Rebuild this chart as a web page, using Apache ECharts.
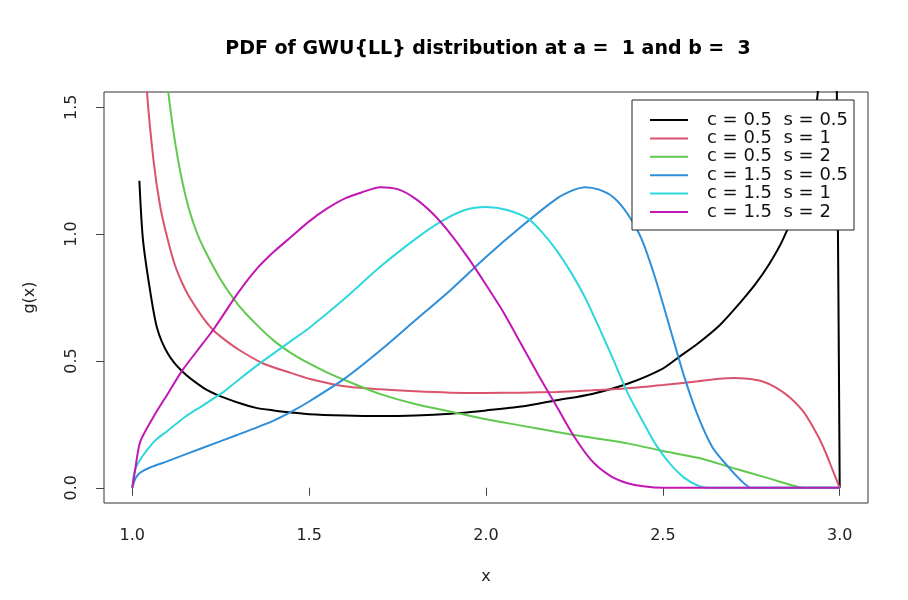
<!DOCTYPE html>
<html>
<head>
<meta charset="utf-8">
<script src="https://cdn.jsdelivr.net/npm/echarts@6/dist/echarts.min.js"></script>
<style>html,body{margin:0;padding:0;background:#fff}#c{width:908px;height:600px}</style>
</head>
<body>
<div id="c"></div>
<script>
const titleText = "PDF of GWU{LL} distribution at a =  1 and b =  3";
const xTicks = [1.0, 1.5, 2.0, 2.5, 3.0];
const yTicks = [0.0, 0.5, 1.0, 1.5];
const seriesNames = ["c = 0.5  s = 0.5", "c = 0.5  s = 1", "c = 0.5  s = 2", "c = 1.5  s = 0.5", "c = 1.5  s = 1", "c = 1.5  s = 2"];
const seriesColors = ["#000000", "#D9546C", "#61C94F", "#2F8FD8", "#2FD8DC", "#C218B5"];

// x positions and g(x) values
const blackX = [1.02,1.03,1.05,1.07,1.1,1.14,1.2,1.25,1.3,1.35,1.4,1.45,1.5,1.6,1.7,1.8,1.9,2.0,2.1,2.2,2.3,2.4,2.5,2.55,2.6,2.66,2.7,2.76,2.8,2.84,2.88,2.92,2.96,2.98,3.0];
const blackY = [1.21,0.98,0.78,0.63,0.53,0.46,0.395,0.36,0.335,0.315,0.305,0.297,0.29,0.285,0.283,0.285,0.292,0.305,0.32,0.345,0.37,0.41,0.47,0.52,0.57,0.64,0.70,0.80,0.88,0.98,1.12,1.35,1.9,2.8,0];
const redX = [1.02,1.04,1.06,1.08,1.1,1.12,1.14,1.16,1.2,1.23,1.26,1.3,1.37,1.45,1.5,1.6,1.7,1.8,1.9,2.0,2.1,2.2,2.3,2.4,2.5,2.6,2.66,2.7,2.74,2.78,2.82,2.86,2.9,2.94,2.96,2.98,3.0];
const redY = [2.4,1.6,1.29,1.1,0.98,0.88,0.81,0.755,0.67,0.62,0.585,0.545,0.49,0.452,0.43,0.40,0.388,0.38,0.375,0.374,0.375,0.378,0.384,0.392,0.405,0.42,0.43,0.433,0.43,0.42,0.395,0.355,0.295,0.2,0.14,0.07,0];
const greenX = [1.06,1.08,1.1,1.12,1.14,1.16,1.18,1.2,1.25,1.3,1.35,1.4,1.45,1.5,1.55,1.6,1.7,1.8,1.9,2.0,2.1,2.2,2.3,2.4,2.5,2.6,2.7,2.8,2.86,2.9,3.0];
const greenY = [2.2,1.85,1.58,1.37,1.215,1.1,1.015,0.95,0.82,0.72,0.645,0.58,0.53,0.49,0.455,0.425,0.37,0.33,0.30,0.27,0.245,0.22,0.197,0.175,0.145,0.118,0.077,0.037,0.012,0,0];
const blueX = [1.0,1.01,1.023,1.05,1.1,1.2,1.3,1.4,1.45,1.5,1.6,1.7,1.8,1.9,2.0,2.1,2.2,2.25,2.28,2.32,2.36,2.4,2.44,2.48,2.52,2.56,2.6,2.64,2.68,2.72,2.75,3.0];
const blueY = [0,0.04,0.06,0.08,0.105,0.158,0.21,0.265,0.30,0.34,0.43,0.54,0.66,0.78,0.91,1.03,1.14,1.175,1.185,1.175,1.145,1.08,0.98,0.82,0.63,0.44,0.28,0.16,0.09,0.03,0,0];
const cyanX = [1.0,1.01,1.06,1.1,1.15,1.2,1.26,1.3,1.37,1.45,1.5,1.6,1.7,1.8,1.87,1.94,2.0,2.06,2.12,2.16,2.2,2.24,2.28,2.32,2.36,2.4,2.44,2.48,2.52,2.56,2.6,2.63,3.0];
const cyanY = [0,0.08,0.18,0.225,0.28,0.325,0.38,0.425,0.50,0.58,0.63,0.745,0.87,0.98,1.047,1.095,1.107,1.095,1.06,1.005,0.935,0.85,0.75,0.63,0.505,0.375,0.27,0.17,0.095,0.04,0.008,0,0];
const magentaX = [1.0,1.008,1.022,1.06,1.1,1.14,1.2,1.23,1.3,1.35,1.4,1.45,1.5,1.55,1.6,1.65,1.7,1.75,1.8,1.85,1.9,1.95,2.0,2.05,2.1,2.15,2.2,2.25,2.3,2.35,2.4,2.45,2.5,3.0];
const magentaY = [0,0.07,0.18,0.28,0.37,0.46,0.57,0.625,0.77,0.86,0.93,0.99,1.05,1.10,1.14,1.165,1.185,1.177,1.14,1.08,1.0,0.905,0.80,0.69,0.565,0.44,0.32,0.2,0.105,0.048,0.018,0.005,0,0];

const allX = [blackX, redX, greenX, blueX, cyanX, magentaX];
const allY = [blackY, redY, greenY, blueY, cyanY, magentaY];

const FONT = "'DejaVu Sans', 'Liberation Sans', Arial, sans-serif";
const chart = echarts.init(document.getElementById('c'), null, {renderer: 'canvas'});
chart.setOption({
  animation: false,
  backgroundColor: '#fff',
  title: {
    text: titleText,
    left: 483, textAlign: 'center', top: 35,
    textStyle: {fontFamily: FONT, fontSize: 19, fontWeight: 'bold', color: '#000'}
  },
  grid: {left: 104, right: 40, top: 92, bottom: 97, show: true, borderColor: '#333', borderWidth: 1, backgroundColor: 'transparent'},
  xAxis: {
    type: 'value', min: 0.92, max: 3.08,
    name: 'x', nameLocation: 'middle', nameGap: 66,
    nameTextStyle: {fontFamily: FONT, fontSize: 16, color: '#222'},
    axisLine: {show: false},
    splitLine: {show: false},
    axisTick: {show: true, length: 8, lineStyle: {color: '#444'}, customValues: xTicks},
    axisLabel: {fontFamily: FONT, fontSize: 16, color: '#222', margin: 25, customValues: xTicks, formatter: v => v.toFixed(1)}
  },
  yAxis: {
    type: 'value', min: -0.06, max: 1.56,
    name: 'g(x)', nameLocation: 'middle', nameGap: 66,
    nameTextStyle: {fontFamily: FONT, fontSize: 16, color: '#222'},
    axisLine: {show: false},
    splitLine: {show: false},
    axisTick: {show: true, length: 8, lineStyle: {color: '#444'}, customValues: yTicks},
    axisLabel: {fontFamily: FONT, fontSize: 16, color: '#222', margin: 24, rotate: 90, customValues: yTicks, formatter: v => v.toFixed(1)}
  },
  legend: {
    orient: 'vertical', left: 632, top: 100,
    padding: [11, 6, 9, 18],
    backgroundColor: '#fff', borderColor: '#222', borderWidth: 1, borderRadius: 0,
    itemWidth: 38, itemHeight: 14, itemGap: 0.4,
    formatter: name => '{g|}' + name,
    textStyle: {fontFamily: FONT, fontSize: 18, color: '#111', lineHeight: 18,
      rich: {g: {width: 14, fontFamily: FONT, fontSize: 18, lineHeight: 18}}},
    data: seriesNames.map(n => ({name: n, icon: 'path://M0,0 L38,0 L38,2 L0,2 Z'}))
  },
  series: seriesNames.map((n, i) => ({
    name: n, type: 'line', symbol: 'none', clip: true,
    smooth: 0.25,
    color: seriesColors[i],
    lineStyle: {width: 2, color: seriesColors[i]},
    data: allX[i].map((x, k) => [x, allY[i][k]])
  }))
});
</script>
</body>
</html>
